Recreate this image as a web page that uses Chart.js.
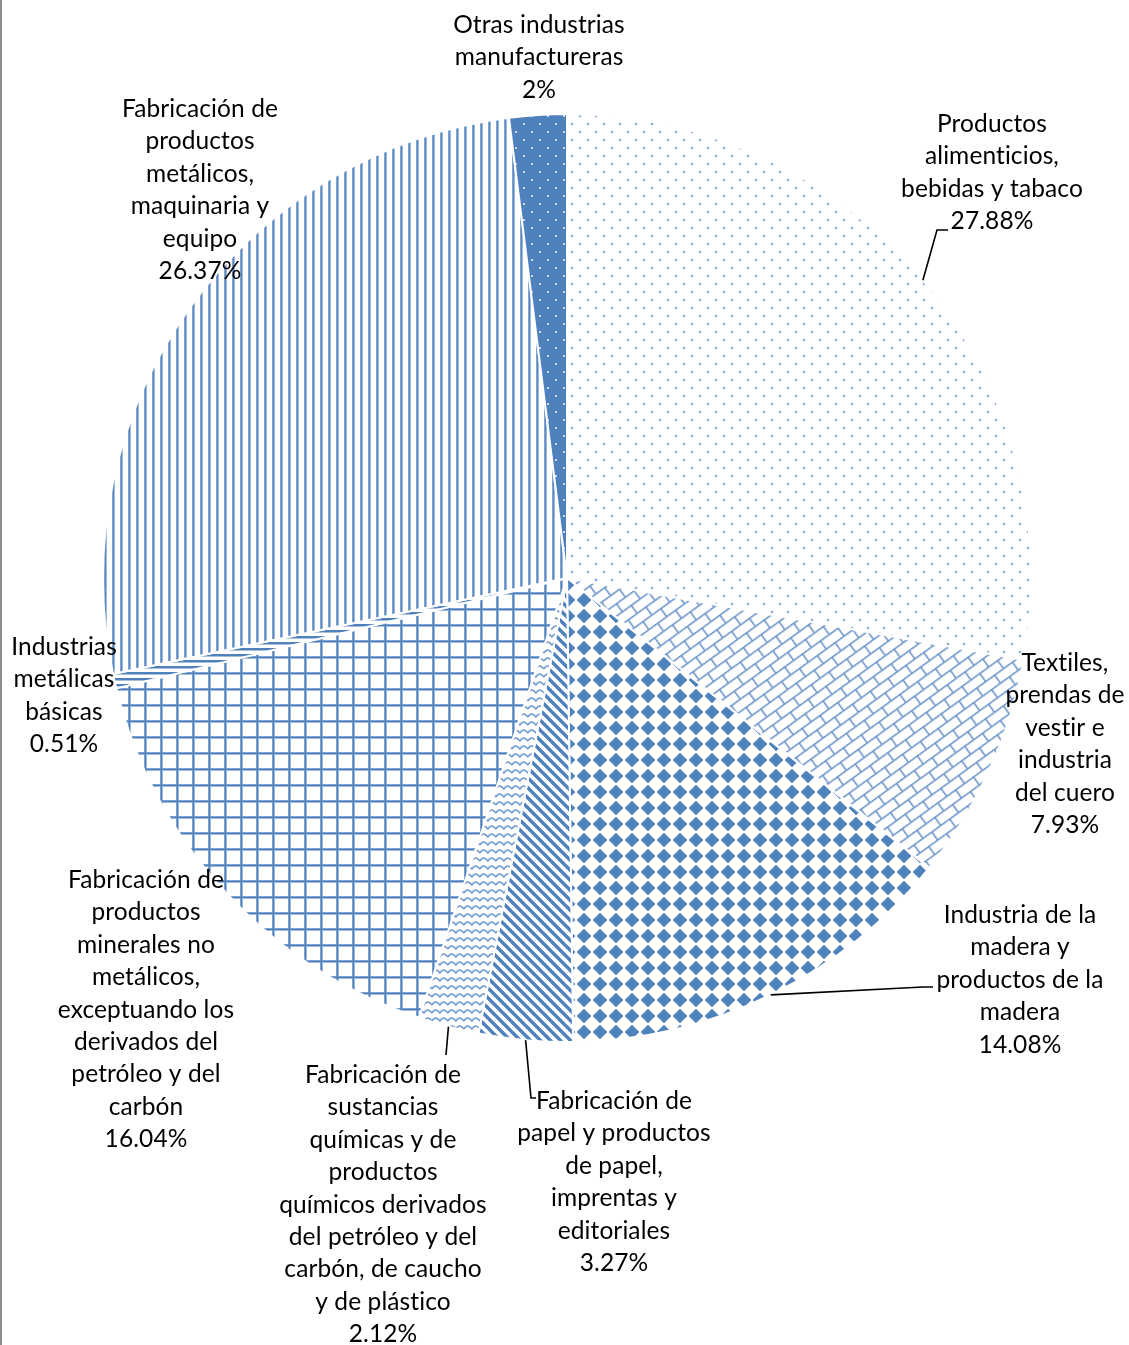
<!DOCTYPE html>
<html lang="es">
<head>
<meta charset="utf-8">
<title>Industria manufacturera por subsector</title>
<script src="https://cdn.jsdelivr.net/npm/chart.js@4.4.1/dist/chart.umd.min.js"></script>
<style>
  html, body { margin: 0; padding: 0; background: #fff; }
  #wrap { position: relative; width: 1129px; height: 1345px; }
  #wrap::before { content: ""; position: absolute; left: 0; top: 0; width: 2px; height: 100%; background: #8c8c8c; z-index: 2; }
  canvas { display: block; }
</style>
</head>
<body>
<div id="wrap"><canvas id="graficoSectores" width="1129" height="1345"></canvas></div>
<script>
// subsectores (cada uno en líneas, como se rotulan)
const sectores = [
  ["Productos", "alimenticios,", "bebidas y tabaco"],
  ["Textiles,", "prendas de", "vestir e", "industria", "del cuero"],
  ["Industria de la", "madera y", "productos de la", "madera"],
  ["Fabricación de", "papel y productos", "de papel,", "imprentas y", "editoriales"],
  ["Fabricación de", "sustancias", "químicas y de", "productos", "químicos derivados", "del petróleo y del", "carbón, de caucho", "y de plástico"],
  ["Fabricación de", "productos", "minerales no", "metálicos,", "exceptuando los", "derivados del", "petróleo y del", "carbón"],
  ["Industrias", "metálicas", "básicas"],
  ["Fabricación de", "productos", "metálicos,", "maquinaria y", "equipo"],
  ["Otras industrias", "manufactureras"]
];
const porcentajes = [27.88, 7.93, 14.08, 3.27, 2.12, 16.04, 0.51, 26.37, 2];

const AZUL = "#4f81bd";

// posición de cada rótulo respecto al centro del pastel: [dx, dy de la primera línea]
const rotulos = [
  [425, -454], [498, 85], [453, 337], [47, 523], [-184, 497],
  [-421, 302], [-503, 69], [-367, -469], [-28, -553]
];
// líneas guía: puntos a partir del borde del sector
const guias = {
  0: [[370, -348], [381, -348]],
  2: [[356, 409], [366, 409]],
  3: [[-36, 520], [-31, 520]],
  4: [[-121, 477]]
};

function trama(w, h, dibujar) {
  const c = document.createElement("canvas");
  c.width = w; c.height = h;
  const g = c.getContext("2d");
  dibujar(g, w, h);
  return g.createPattern(c, "repeat");
}

function rombo(g, x, y, r) {
  g.beginPath();
  g.moveTo(x, y - r); g.lineTo(x + r, y); g.lineTo(x, y + r); g.lineTo(x - r, y);
  g.closePath(); g.fill();
}

const tramas = [
  // puntos dispersos
  trama(16, 16, (g) => {
    g.fillStyle = "#fff"; g.fillRect(0, 0, 16, 16);
    g.fillStyle = "#dde7f3"; g.fillRect(2.5, 2.5, 3, 3); g.fillRect(10.5, 10.5, 3, 3);
    g.fillStyle = "#8aaad6"; g.fillRect(3, 3, 2, 2); g.fillRect(11, 11, 2, 2);
  }),
  // ladrillo diagonal
  (() => {
    const p = trama(22, 20, (g) => {
      g.fillStyle = "#fff"; g.fillRect(0, 0, 22, 20);
      g.fillStyle = "#6f97cc";
      g.fillRect(0, 0, 22, 1.6); g.fillRect(0, 10, 22, 1.6);
      g.fillRect(0, 0, 1.6, 10); g.fillRect(11, 10, 1.6, 10);
    });
    p.setTransform(new DOMMatrix().rotateSelf(-36));
    return p;
  })(),
  // tablero de rombos
  trama(16, 16, (g) => {
    g.fillStyle = "#fff"; g.fillRect(0, 0, 16, 16);
    g.fillStyle = AZUL;
    rombo(g, 8, 8, 7.3);
  }),
  // rayas diagonales
  trama(10, 10, (g) => {
    g.fillStyle = "#fff"; g.fillRect(0, 0, 10, 10);
    g.strokeStyle = AZUL; g.lineWidth = 3.4;
    [-10, 0, 10].forEach((o) => {
      g.beginPath(); g.moveTo(o - 1, -1); g.lineTo(o + 11, 11); g.stroke();
    });
  }),
  // ondas
  trama(16, 8, (g) => {
    g.fillStyle = "#fff"; g.fillRect(0, 0, 16, 8);
    g.strokeStyle = "#6f97cc"; g.lineWidth = 1.5;
    g.beginPath();
    g.moveTo(0, 5); g.quadraticCurveTo(2, 1.5, 4, 2); g.quadraticCurveTo(6, 2.5, 8, 5);
    g.quadraticCurveTo(10, 1.5, 12, 2); g.quadraticCurveTo(14, 2.5, 16, 5);
    g.stroke();
  }),
  // cuadrícula
  trama(16, 16, (g) => {
    g.fillStyle = "#fff"; g.fillRect(0, 0, 16, 16);
    g.fillStyle = "#a9c0e0"; g.fillRect(0, 0, 3, 16); g.fillRect(0, 0, 16, 3);
    g.fillStyle = AZUL; g.fillRect(0.5, 0, 1.6, 16); g.fillRect(0, 0.5, 16, 1.6);
  }),
  // líneas horizontales
  trama(8, 6, (g) => {
    g.fillStyle = "#fff"; g.fillRect(0, 0, 8, 6);
    g.fillStyle = AZUL; g.fillRect(0, 0, 8, 2.5);
  }),
  // líneas verticales
  trama(8, 8, (g) => {
    g.fillStyle = "#fff"; g.fillRect(0, 0, 8, 8);
    g.fillStyle = "#a9c0e0"; g.fillRect(0, 0, 3, 8);
    g.fillStyle = "#5a88c2"; g.fillRect(0.5, 0, 1.6, 8);
  }),
  // relleno con puntos blancos
  trama(16, 16, (g) => {
    g.fillStyle = AZUL; g.fillRect(0, 0, 16, 16);
    g.fillStyle = "#c9d8ec"; g.fillRect(3, 3, 2, 2); g.fillRect(11, 11, 2, 2);
  })
];

const FUENTE = "24.5px Lato, sans-serif";
const INTERLINEA = 32.4;

// rótulos con nombre y porcentaje, más sus líneas guía
const rotulosPlugin = {
  id: "rotulos",
  afterDraw(chart) {
    const ctx = chart.ctx;
    const arcos = chart.getDatasetMeta(0).data;
    const cx = arcos[0].x, cy = arcos[0].y;
    ctx.save();
    ctx.font = FUENTE;
    ctx.letterSpacing = "0.1px";
    ctx.fillStyle = "#000";
    ctx.textAlign = "center";
    ctx.textBaseline = "middle";
    sectores.forEach((lineas, i) => {
      const texto = lineas.concat([String(porcentajes[i]) + "%"]);
      const [dx, dy] = rotulos[i];
      texto.forEach((t, k) => ctx.fillText(t, cx + dx, cy + dy + k * INTERLINEA));
    });
    ctx.strokeStyle = "#000";
    ctx.lineWidth = 1.6;
    Object.keys(guias).forEach((key) => {
      const a = arcos[key];
      const medio = (a.startAngle + a.endAngle) / 2;
      ctx.beginPath();
      ctx.moveTo(cx + Math.cos(medio) * a.outerRadius, cy + Math.sin(medio) * a.outerRadius);
      guias[key].forEach(([px, py]) => ctx.lineTo(cx + px, cy + py));
      ctx.stroke();
    });
    ctx.restore();
  }
};

new Chart(document.getElementById("graficoSectores").getContext("2d"), {
  type: "pie",
  data: {
    labels: sectores,
    datasets: [{
      data: porcentajes,
      backgroundColor: tramas,
      borderColor: "#fff",
      borderWidth: 2
    }]
  },
  options: {
    responsive: false,
    animation: false,
    events: [],
    layout: { padding: { left: 102, right: 97, top: 113, bottom: 302 } },
    plugins: {
      legend: { display: false },
      tooltip: { enabled: false }
    }
  },
  plugins: [rotulosPlugin]
});
</script>
</body>
</html>
